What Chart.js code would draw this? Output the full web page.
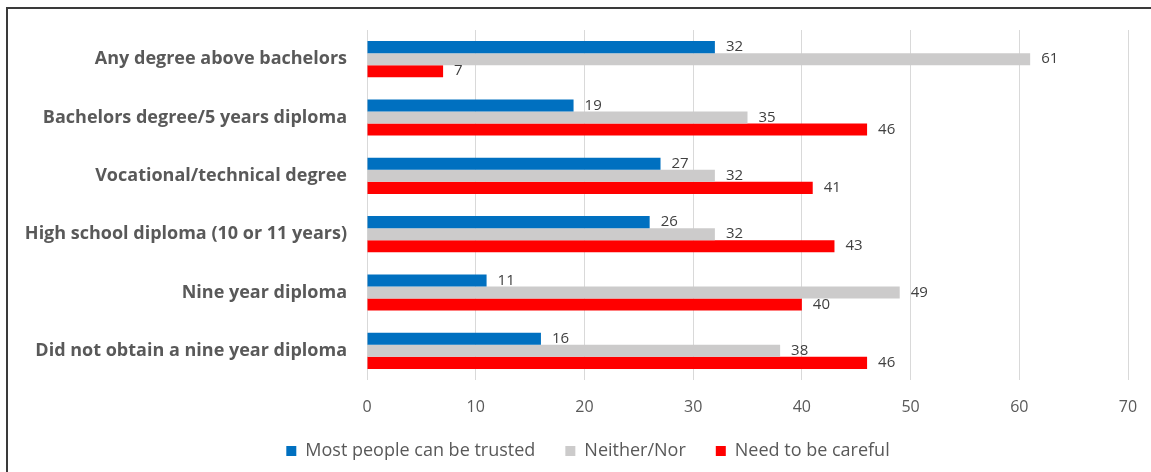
<!DOCTYPE html>
<html>
<head>
<meta charset="utf-8">
<script src="https://cdn.jsdelivr.net/npm/chart.js@4"></script>
<style>
  html, body { margin: 0; padding: 0; background: #fff; }
  #wrap { position: relative; width: 1151px; height: 472px; overflow: hidden; }
  #frame { position: absolute; left: 6px; top: 7px; width: 1160px; height: 480px;
           border: 2px solid #3a3a3a; pointer-events: none; box-sizing: border-box; }
  canvas { position: absolute; left: 0; top: 0; }
</style>
</head>
<body>
<div id="wrap">
  <canvas id="chart" width="1151" height="472"></canvas>
  <div id="frame"></div>
</div>
<script>
// categories, top to bottom
const categories = [
    'Any degree above bachelors',
    'Bachelors degree/5 years diploma',
    'Vocational/technical degree',
    'High school diploma (10 or 11 years)',
    'Nine year diploma',
    'Did not obtain a nine year diploma'
];
const trusted = [32, 19, 27, 26, 11, 16];
const neither = [61, 35, 32, 32, 49, 38];
const careful = [7, 46, 41, 43, 40, 46];
const xTicks = [0, 10, 20, 30, 40, 50, 60, 70];

const FONT = '"Open Sans", "Liberation Sans", sans-serif';

// value labels at the end of each bar
const barLabels = {
    id: 'barLabels',
    afterLayout(chart) {
        // legend sits a little right of the canvas centre in the original
        chart.legend.left += 24;
        chart.legend.right += 24;
    },
    afterDatasetsDraw(chart) {
        const ctx = chart.ctx;
        ctx.save();
        ctx.font = '15px ' + FONT;
        ctx.fillStyle = '#404040';
        ctx.textBaseline = 'middle';
        ctx.textAlign = 'left';
        chart.data.datasets.forEach((ds, i) => {
            const meta = chart.getDatasetMeta(i);
            meta.data.forEach((bar, j) => {
                ctx.fillText(ds.data[j], bar.x + 11, bar.y);
            });
        });
        ctx.restore();
    }
};

new Chart(document.getElementById('chart').getContext('2d'), {
    type: 'bar',
    data: {
        labels: categories,
        datasets: [
            { label: 'Most people can be trusted', data: trusted, backgroundColor: '#0070C0' },
            { label: 'Neither/Nor', data: neither, backgroundColor: '#CCCBCB' },
            { label: 'Need to be careful', data: careful, backgroundColor: '#FF0000' }
        ]
    },
    options: {
        indexAxis: 'y',
        responsive: false,
        animation: false,
        barPercentage: 1.0,
        categoryPercentage: 0.62,
        layout: { padding: { left: 0, right: 23, top: 30, bottom: 2 } },
        scales: {
            x: {
                min: 0,
                max: 70,
                afterBuildTicks: (scale) => { scale.ticks = xTicks.map(v => ({ value: v })); },
                grid: { color: '#D9D9D9', tickLength: 0, drawTicks: false },
                border: { display: false },
                ticks: { color: '#595959', font: { family: FONT, size: 16 }, padding: 18 },
                afterFit: (scale) => {
                    scale.height = 32;
                    scale.paddingLeft = 0;
                    scale.paddingRight = 0;
                }
            },
            y: {
                grid: { display: false },
                border: { display: false },
                ticks: { color: '#595959', font: { family: FONT, size: 18, weight: 'bold' }, padding: 12 },
                afterFit: (scale) => { scale.width = 367; }
            }
        },
        plugins: {
            legend: {
                position: 'bottom',
                labels: {
                    color: '#595959',
                    font: { family: FONT, size: 18 },
                    boxWidth: 10,
                    boxHeight: 10,
                    padding: 30
                }
            },
            tooltip: { enabled: false }
        }
    },
    plugins: [barLabels]
});
</script>
</body>
</html>
